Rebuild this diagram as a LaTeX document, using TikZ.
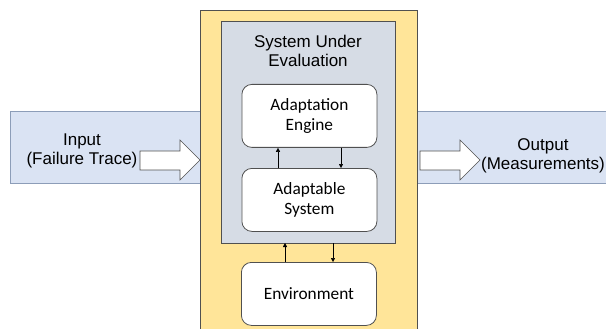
\documentclass[tikz,border=0pt]{standalone}
\usepackage{fontspec}
\setmainfont{Liberation Sans}
\newfontfamily\calibrilike{Carlito}
\usetikzlibrary{arrows.meta}
\definecolor{bandblue}{HTML}{DAE3F3}
\definecolor{bandedge}{HTML}{8C9DB8}
\definecolor{boxyellow}{HTML}{FFE599}
\definecolor{sutgray}{HTML}{D6DCE5}
\definecolor{edgegray}{HTML}{505050}
\tikzset{
  label/.style={font=\fontsize{17}{19.5}\selectfont, align=center, inner sep=0pt},
  innerbox/.style={draw=edgegray, line width=0.8pt, fill=white, rounded corners=10pt,
    minimum width=135pt, minimum height=63pt, anchor=north west,
    font=\calibrilike\fontsize{17.3}{20.5}\selectfont, align=center},
  blockarrow/.style={draw=edgegray, line width=0.6pt, fill=white, line join=miter},
  link/.style={draw=black, line width=0.5pt, -{Triangle[length=4pt,width=4pt]}},
}
\begin{document}
\begin{tikzpicture}[x=1pt,y=-1pt]
\useasboundingbox (0,0) rectangle (606,329);
% background band
\draw[fill=bandblue, draw=bandedge, line width=0.8pt] (10,111) rectangle (620,183);
% evaluation frame
\draw[fill=boxyellow, draw=edgegray, line width=0.8pt] (200,10) rectangle (417,340);
% system under evaluation
\draw[fill=sutgray, draw=edgegray, line width=1pt] (221,22) rectangle (395,243);
\node[label] (sut) at (308,51) {System Under\\Evaluation};
% components
\node[innerbox] (engine) at (241.5,84) {Adaptation\\Engine};
\node[innerbox] (asys) at (241.5,168) {Adaptable\\System};
\node[innerbox] (env) at (241,262) {Environment};
\coordinate (sutbottom) at (308,243);
% links
\draw[link] (asys.north -| 278,0) -- (engine.south -| 278,0);
\draw[link] (engine.south -| 341,0) -- (asys.north -| 341,0);
\draw[link] (env.north -| 285,0) -- (sutbottom -| 285,0);
\draw[link] (sutbottom -| 333,0) -- (env.north -| 333,0);
% input / output labels
\node[label] (input) at (82,151) {Input\\(Failure Trace)};
\node[label] (output) at (543,156) {Output\\(Measurements)};
% block arrows
\coordinate (inA) at (140,160);
\draw[blockarrow] (140,151) -- (180,151) -- (180,140) -- (200,160) -- (180,180) -- (180,170) -- (140,170) -- cycle;
\coordinate (outA) at (420,160);
\draw[blockarrow] (420,151) -- (460,151) -- (460,140) -- (480,160) -- (460,180) -- (460,170) -- (420,170) -- cycle;
\end{tikzpicture}
\end{document}
